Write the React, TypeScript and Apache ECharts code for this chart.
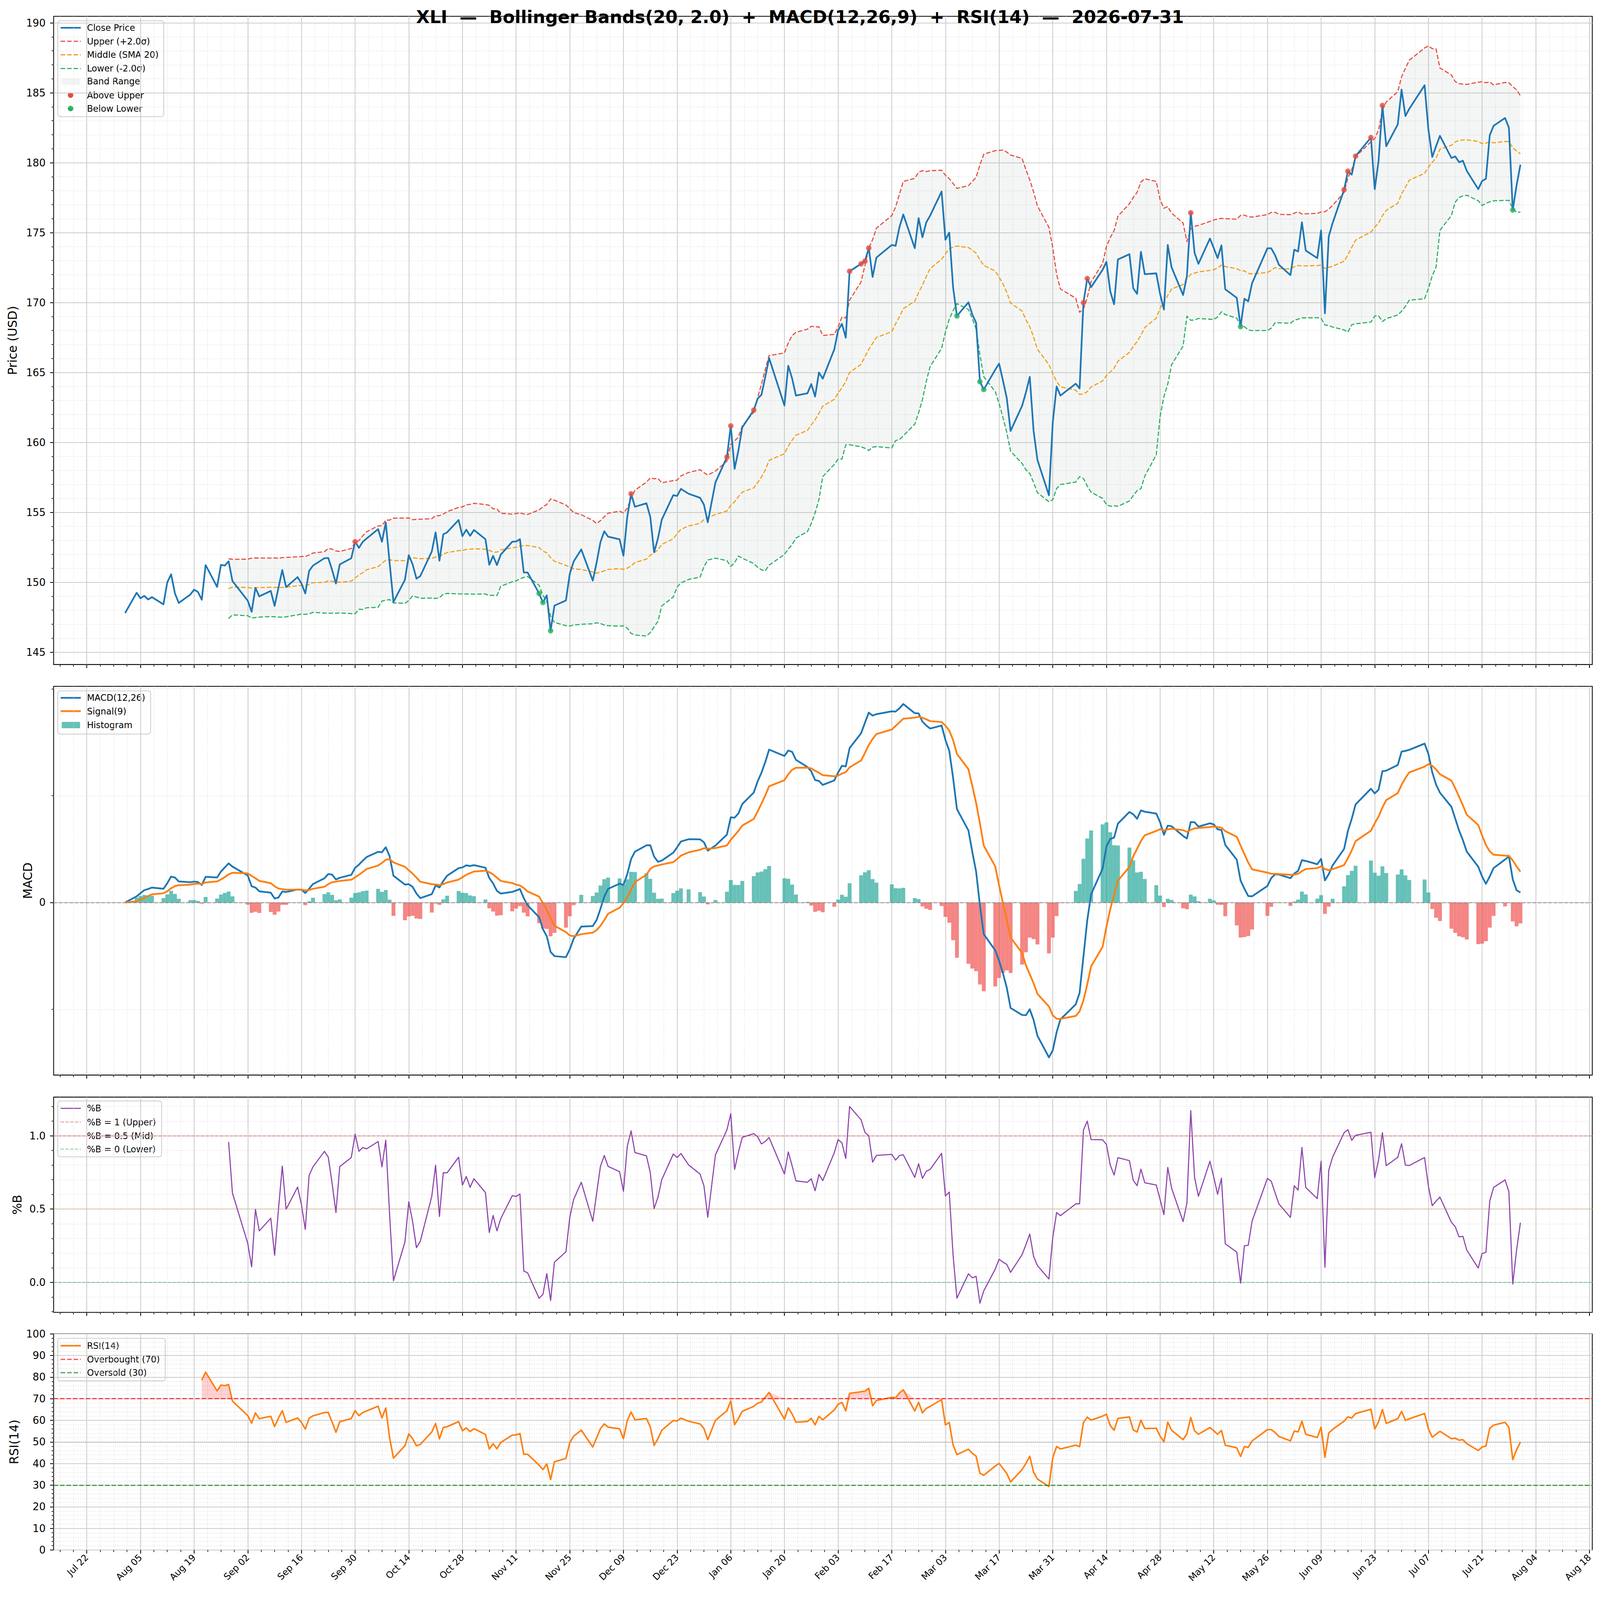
import React, { useEffect, useRef } from "react";
import * as echarts from "echarts";

// ---------------- DATA ----------------
const TITLE = "XLI  —  Bollinger Bands(20, 2.0)  +  MACD(12,26,9)  +  RSI(14)  —  2026-07-31";
const FIRST_DAY = "2025-08-01";
const LAST_DAY = "2026-07-31";
const AXIS_ORIGIN = "2025-07-22"; // first x tick (a Tuesday)
const HOLIDAYS = [
  "2025-09-01", "2025-11-27", "2025-12-25", "2026-01-01", "2026-01-19",
  "2026-02-16", "2026-04-03", "2026-05-25", "2026-06-19", "2026-07-03",
];

// Close prices (USD), one per trading day
const CLOSE_AUG_2025 = [147.8, 149.25, 148.86, 149.03, 148.77, 148.94, 148.42, 150.0, 150.57, 149.2, 148.52, 149.12, 149.47, 149.31, 148.75, 151.23, 149.67, 151.25, 151.19, 151.5, 150.09];
const CLOSE_SEP_2025 = [148.68, 147.89, 149.6, 148.99, 149.38, 148.31, 149.6, 150.88, 149.65, 150.37, 149.91, 149.2, 150.81, 151.19, 151.72, 151.74, 150.88, 149.91, 151.28, 151.72, 152.9];
const CLOSE_OCT_2025 = [152.46, 152.9, 153.13, 153.8, 152.9, 154.27, 151.4, 148.59, 150.18, 151.94, 151.28, 150.26, 150.44, 152.2, 153.57, 151.54, 153.43, 153.57, 154.45, 153.3, 153.76, 153.32, 153.74];
const CLOSE_NOV_2025 = [153.08, 151.25, 151.89, 151.23, 151.98, 152.9, 152.92, 153.08, 150.7, 150.7, 149.2, 148.55, 149.06, 146.53, 148.33, 148.7, 150.6, 151.48, 152.35];
const CLOSE_DEC_2025 = [150.12, 151.4, 152.87, 153.65, 153.26, 153.07, 151.9, 154.68, 156.33, 155.4, 155.65, 154.68, 152.15, 153.13, 154.48, 156.23, 156.17, 156.68, 156.33, 156.04, 155.55, 154.29];
const CLOSE_JAN_2026 = [157.14, 158.95, 161.18, 158.11, 159.43, 161.08, 162.31, 163.12, 163.41, 164.67, 166.03, 162.64, 165.48, 164.58, 163.35, 163.51, 164.17, 163.28, 165.0, 164.56];
const CLOSE_FEB_2026 = [166.65, 168.01, 168.48, 167.49, 172.24, 172.77, 172.96, 173.9, 171.83, 173.22, 174.12, 174.06, 175.39, 176.3, 173.89, 176.04, 174.67, 175.73, 176.21];
const CLOSE_MAR_2026 = [177.94, 174.49, 175.0, 171.09, 169.04, 170.02, 169.16, 168.56, 164.34, 163.78, 165.2, 165.63, 164.43, 163.17, 160.82, 162.62, 163.57, 164.69, 160.82, 158.75, 156.22, 161.42];
const CLOSE_APR_2026 = [164.0, 163.35, 164.2, 163.86, 169.99, 171.72, 171.1, 172.34, 172.91, 170.8, 169.88, 173.08, 173.46, 171.02, 170.62, 173.63, 172.03, 172.09, 170.62, 169.5, 174.12];
const CLOSE_MAY_2026 = [172.52, 170.54, 171.91, 176.42, 173.55, 172.77, 174.58, 173.9, 173.18, 174.09, 170.95, 170.34, 168.28, 170.27, 170.09, 171.39, 173.88, 173.88, 173.38, 172.7];
const CLOSE_JUN_2026 = [171.96, 173.78, 173.65, 175.74, 173.72, 173.18, 175.16, 169.23, 174.73, 175.68, 178.07, 179.39, 179.15, 180.47, 181.8, 178.11, 180.14, 184.09, 181.18, 182.74, 185.23];
const CLOSE_JUL_2026 = [183.34, 183.85, 185.54, 182.36, 180.41, 181.18, 181.92, 180.34, 180.45, 180.04, 180.14, 179.42, 178.11, 178.69, 178.85, 181.96, 182.64, 183.2, 182.5, 176.62, 178.38, 179.86];

const BB_PERIOD = 20;
const BB_K = 2.0;
const MACD_FAST = 12;
const MACD_SLOW = 26;
const MACD_SIGNAL = 9;
const RSI_PERIOD = 14;

const X_TICK_LABELS = [
  "Jul 22", "Aug 05", "Aug 19", "Sep 02", "Sep 16", "Sep 30", "Oct 14", "Oct 28",
  "Nov 11", "Nov 25", "Dec 09", "Dec 23", "Jan 06", "Jan 20", "Feb 03", "Feb 17",
  "Mar 03", "Mar 17", "Mar 31", "Apr 14", "Apr 28", "May 12", "May 26", "Jun 09",
  "Jun 23", "Jul 07", "Jul 21", "Aug 04", "Aug 18",
];
const PRICE_TICKS = [145, 150, 155, 160, 165, 170, 175, 180, 185, 190];
const MACD_TICKS = [0];
const MACD_MINOR_TICKS = [-2, 2, 4];
const PCTB_TICKS = [0, 0.5, 1.0];
const RSI_TICKS = [0, 10, 20, 30, 40, 50, 60, 70, 80, 90, 100];

// ---------------- HELPERS ----------------
const REF_W = 4377;
const REF_H = 4322;
const DAY = 86400000;
const utc = (s: string) => Date.parse(s + "T00:00:00Z");
const dayNum = (s: string) => Math.round((utc(s) - utc(AXIS_ORIGIN)) / DAY);

function tradingDays(): string[] {
  const hol = new Set(HOLIDAYS);
  const out: string[] = [];
  for (let t = utc(FIRST_DAY); t <= utc(LAST_DAY); t += DAY) {
    const d = new Date(t);
    const wd = d.getUTCDay();
    if (wd === 0 || wd === 6) continue;
    const s = d.toISOString().slice(0, 10);
    if (hol.has(s)) continue;
    out.push(s);
  }
  return out;
}

function ema(arr: number[], span: number): number[] {
  const a = 2 / (span + 1);
  const out: number[] = [];
  arr.forEach((v, i) => out.push(i === 0 ? v : a * v + (1 - a) * out[i - 1]));
  return out;
}

const FONT = "DejaVu Sans";

function buildOption(sx: number, sy: number) {
  const X = (v: number) => v * sx;
  const Y = (v: number) => v * sy;
  const s = Math.min(sx, sy);
  const P = (v: number) => v * s;

  const close = [
    ...CLOSE_AUG_2025, ...CLOSE_SEP_2025, ...CLOSE_OCT_2025, ...CLOSE_NOV_2025,
    ...CLOSE_DEC_2025, ...CLOSE_JAN_2026, ...CLOSE_FEB_2026, ...CLOSE_MAR_2026,
    ...CLOSE_APR_2026, ...CLOSE_MAY_2026, ...CLOSE_JUN_2026, ...CLOSE_JUL_2026,
  ];
  const dates = tradingDays();
  const n = Math.min(dates.length, close.length);
  const xs = dates.slice(0, n).map(dayNum);

  // Bollinger
  const mid: (number | null)[] = [];
  const up: (number | null)[] = [];
  const lo: (number | null)[] = [];
  for (let i = 0; i < n; i++) {
    if (i < BB_PERIOD - 1) { mid.push(null); up.push(null); lo.push(null); continue; }
    const w = close.slice(i - BB_PERIOD + 1, i + 1);
    const m = w.reduce((a, b) => a + b, 0) / BB_PERIOD;
    const sd = Math.sqrt(w.reduce((a, b) => a + (b - m) * (b - m), 0) / (BB_PERIOD - 1));
    mid.push(m); up.push(m + BB_K * sd); lo.push(m - BB_K * sd);
  }
  // MACD
  const eF = ema(close.slice(0, n), MACD_FAST);
  const eS = ema(close.slice(0, n), MACD_SLOW);
  const macd = eF.map((v, i) => v - eS[i]);
  const signal = ema(macd, MACD_SIGNAL);
  const hist = macd.map((v, i) => v - signal[i]);
  // RSI (Wilder)
  const rsi: (number | null)[] = [null];
  let ag = 0, al = 0;
  for (let i = 1; i < n; i++) {
    const d = close[i] - close[i - 1];
    const g = Math.max(d, 0), l = Math.max(-d, 0);
    if (i === 1) { ag = g; al = l; } else { ag = ag * (1 - 1 / RSI_PERIOD) + g / RSI_PERIOD; al = al * (1 - 1 / RSI_PERIOD) + l / RSI_PERIOD; }
    rsi.push(i >= RSI_PERIOD ? (al === 0 ? 100 : 100 - 100 / (1 + ag / al)) : null);
  }
  // %B
  const pctb = close.slice(0, n).map((c, i) => (up[i] == null ? null : (c - (lo[i] as number)) / ((up[i] as number) - (lo[i] as number))));

  const pts = (arr: (number | null)[]) => {
    const out: number[][] = [];
    arr.forEach((v, i) => { if (v != null) out.push([xs[i], v]); });
    return out;
  };

  const above: number[][] = [];
  const below: number[][] = [];
  for (let i = 0; i < n; i++) {
    if (up[i] != null && close[i] > (up[i] as number)) above.push([xs[i], close[i]]);
    if (lo[i] != null && close[i] < (lo[i] as number)) below.push([xs[i], close[i]]);
  }
  const bandData: number[][] = [];
  for (let i = 0; i < n; i++) if (up[i] != null) bandData.push([xs[i], up[i] as number, lo[i] as number]);

  // layout (reference px, scaled)
  const XMIN = -8.65, XMAX = 392.75;
  const GL = 146.7, GW = 4209.2;
  const GRIDS = [
    { top: 44, height: 1751 },
    { top: 1854, height: 1050 },
    { top: 2963.6, height: 581.4 },
    { top: 3603, height: 584 },
  ];

  const xMajor = X_TICK_LABELS.map((_, k) => k * 14);
  const xMinor: number[] = [];
  for (let v = -7; v <= XMAX; v += 3.5) if (Math.abs(v / 14 - Math.round(v / 14)) > 1e-6) xMinor.push(v);

  const allM = [...macd, ...signal, ...hist, 0];
  const mMin = Math.min(...allM), mMax = Math.max(...allM);
  const mPad = (mMax - mMin) * 0.05;

  const range = (a: number, b: number, st: number, skip: number) => {
    const o: number[] = [];
    for (let v = a; v <= b + 1e-9; v += st) {
      const r = Math.round(v * 1000) / 1000;
      if (Math.abs(r / skip - Math.round(r / skip)) > 1e-6) o.push(r);
    }
    return o;
  };

  const yCfg = [
    { min: 144.12, max: 190.47, major: PRICE_TICKS, minor: range(145, 190, 1, 5), fmt: (v: number) => String(v), name: "Price (USD)", gap: 96 },
    { min: mMin - mPad, max: mMax + mPad, major: MACD_TICKS, minor: MACD_MINOR_TICKS.filter((v) => v > mMin - mPad && v < mMax + mPad), fmt: (v: number) => String(v), name: "MACD", gap: 54 },
    { min: -0.2045, max: 1.2636, major: PCTB_TICKS, minor: range(-0.2, 1.2, 0.1, 0.5), fmt: (v: number) => v.toFixed(1), name: "%B", gap: 83 },
    { min: 0, max: 100, major: RSI_TICKS, minor: range(0, 100, 2, 10), fmt: (v: number) => String(v), name: "RSI(14)", gap: 92 },
  ];

  const minorSplit = { show: true, lineStyle: { color: "#dcdcdc", width: P(1.5), type: [P(2.5), P(3.5)] } };
  const majorSplit = { show: true, lineStyle: { color: "#cccccc", width: P(2.2) } };
  const noLine = { show: false, onZero: false };

  const xAxis: any[] = [];
  const yAxis: any[] = [];
  GRIDS.forEach((_, i) => {
    xAxis.push({
      type: "value", gridIndex: i, min: XMIN, max: XMAX, position: "bottom", offset: 0,
      axisLine: noLine,
      axisTick: { show: true, customValues: xMinor, length: P(5.6), lineStyle: { color: "#000", width: P(1.7) } },
      axisLabel: { show: false },
      splitLine: minorSplit,
    });
    xAxis.push({
      type: "value", gridIndex: i, min: XMIN, max: XMAX, position: "bottom", offset: 0,
      axisLine: noLine,
      axisTick: { show: true, customValues: xMajor, length: P(9.7), lineStyle: { color: "#000", width: P(2.2) } },
      axisLabel: {
        show: i === 3, customValues: xMajor, rotate: 45, fontSize: P(25), fontFamily: FONT, color: "#000", margin: P(16),
        formatter: (v: number) => X_TICK_LABELS[Math.round(v / 14)] ?? "",
      },
      splitLine: majorSplit,
    });
    const c = yCfg[i];
    yAxis.push({
      type: "value", gridIndex: i, min: c.min, max: c.max, position: "left", offset: 0,
      axisLine: noLine,
      axisTick: { show: true, customValues: c.minor, length: P(5.6), lineStyle: { color: "#000", width: P(1.7) } },
      axisLabel: { show: false },
      splitLine: minorSplit,
    });
    yAxis.push({
      type: "value", gridIndex: i, min: c.min, max: c.max, position: "left", offset: 0,
      name: c.name, nameLocation: "middle", nameGap: X(c.gap), nameRotate: 90,
      nameTextStyle: { fontSize: P(33.3), fontFamily: FONT, color: "#000" },
      axisLine: noLine,
      axisTick: { show: true, customValues: c.major, length: P(9.7), lineStyle: { color: "#000", width: P(2.2) } },
      axisLabel: { show: true, customValues: c.major, fontSize: P(27.8), fontFamily: FONT, color: "#000", margin: X(22), formatter: c.fmt },
      splitLine: majorSplit,
    });
  });

  const ax = (i: number) => ({ xAxisIndex: 2 * i + 1, yAxisIndex: 2 * i + 1 });
  const lineS = (i: number, name: string, data: number[][], color: string, width: number, type: any = "solid", z = 3) => ({
    type: "line", name, ...ax(i), data, symbol: "none", showSymbol: false, silent: true, z,
    lineStyle: { color, width: P(width), type, join: "round", cap: "butt" },
  });

  const DASH = [P(12.3), P(5.3)];
  const series: any[] = [
    // band fill (polygon between upper and lower bands)
    {
      type: "custom", name: "Band Range", ...ax(0), data: bandData, silent: true, z: 1,
      encode: { x: 0, y: [1, 2] },
      renderItem: (params: any, api: any) => {
        if (params.dataIndex !== 0) return null;
        const upper = bandData.map((d) => api.coord([d[0], d[1]]));
        const lower = bandData.map((d) => api.coord([d[0], d[2]])).reverse();
        return {
          type: "polygon",
          shape: { points: upper.concat(lower) },
          style: { fill: "#95a5a6", opacity: 0.1, stroke: "none" },
        };
      },
    },
    lineS(0, "Upper (+2.0σ)", pts(up), "#e74c3c", 3.0, DASH),
    lineS(0, "Middle (SMA 20)", pts(mid), "#f39c12", 3.0, DASH),
    lineS(0, "Lower (-2.0σ)", pts(lo), "#27ae60", 3.0, DASH),
    lineS(0, "Close Price", pts(close.slice(0, n)), "#1f77b4", 4.6, "solid", 4),
    { type: "scatter", name: "Above Upper", ...ax(0), data: above, symbol: "circle", symbolSize: P(15), silent: true, z: 5, itemStyle: { color: "#e74c3c" } },
    { type: "scatter", name: "Below Lower", ...ax(0), data: below, symbol: "circle", symbolSize: P(15), silent: true, z: 5, itemStyle: { color: "#27ae60" } },
    // MACD
    {
      type: "bar", name: "Histogram", ...ax(1), data: pts(hist), barWidth: X(10.49), silent: true, z: 2,
      itemStyle: { opacity: 0.7, color: (p: any) => (p.value[1] >= 0 ? "#26a69a" : "#ef5350") },
      markLine: { silent: true, symbol: ["none", "none"], label: { show: false }, data: [{ yAxis: 0 }], lineStyle: { color: "#888888", width: P(2.4), type: [P(10), P(4.5)] } },
    },
    lineS(1, "MACD(12,26)", pts(macd), "#1f77b4", 4.8, "solid", 4),
    lineS(1, "Signal(9)", pts(signal), "#ff7f0e", 4.8, "solid", 4),
    // %B
    {
      ...lineS(2, "%B", pts(pctb), "#8e44ad", 3.0),
      markLine: {
        silent: true, symbol: ["none", "none"], label: { show: false },
        data: [
          { yAxis: 1, lineStyle: { color: "#e74c3c", opacity: 0.6, width: P(2.2), type: [P(9), P(4)] } },
          { yAxis: 0.5, lineStyle: { color: "#f39c12", opacity: 0.5, width: P(2.2), type: [P(3), P(3)] } },
          { yAxis: 0, lineStyle: { color: "#27ae60", opacity: 0.6, width: P(2.2), type: [P(9), P(4)] } },
        ],
      },
    },
    // RSI
    { type: "line", name: "obFill", ...ax(3), data: pts(rsi.map((v) => (v == null ? null : Math.max(v, 70)))), symbol: "none", silent: true, z: 1, lineStyle: { width: 0, opacity: 0 }, areaStyle: { color: "#ff0000", opacity: 0.18, origin: 70 } },
    { type: "line", name: "osFill", ...ax(3), data: pts(rsi.map((v) => (v == null ? null : Math.min(v, 30)))), symbol: "none", silent: true, z: 1, lineStyle: { width: 0, opacity: 0 }, areaStyle: { color: "#008000", opacity: 0.18, origin: 30 } },
    {
      ...lineS(3, "RSI(14)", pts(rsi), "#ff7f0e", 4.2),
      markLine: {
        silent: true, symbol: ["none", "none"], label: { show: false },
        data: [
          { yAxis: 70, lineStyle: { color: "#ff2020", opacity: 0.85, width: P(3.3), type: DASH } },
          { yAxis: 30, lineStyle: { color: "#1f8f1f", opacity: 0.85, width: P(3.3), type: DASH } },
          { yAxis: 50, lineStyle: { color: "#888888", opacity: 0.7, width: P(2.2), type: [P(2.2), P(3.6)] } },
        ],
      },
    },
  ];

  // legends (matplotlib style)
  type Item = { label: string; kind: "line" | "patch" | "dot" | "bar"; color: string; width?: number; dash?: number[]; opacity?: number };
  const legend = (x: number, y: number, w: number, h: number, rows: number[], items: Item[]) => {
    const children: any[] = [
      { type: "rect", shape: { x: X(x), y: Y(y), width: X(w), height: Y(h), r: P(7) }, style: { fill: "rgba(255,255,255,0.8)", stroke: "#cccccc", lineWidth: P(2.2) } },
    ];
    items.forEach((it, k) => {
      const cy = Y(rows[k]);
      if (it.kind === "line") children.push({ type: "line", shape: { x1: X(x + 8), y1: cy, x2: X(x + 63), y2: cy }, style: { stroke: it.color, lineWidth: P(it.width ?? 3), lineDash: it.dash ? it.dash.map(P) : null, opacity: it.opacity ?? 1 } });
      if (it.kind === "patch" || it.kind === "bar") children.push({ type: "rect", shape: { x: X(x + 11), y: cy - Y(8), width: X(50), height: Y(17) }, style: { fill: it.color, opacity: it.opacity ?? 1 } });
      if (it.kind === "dot") children.push({ type: "circle", shape: { cx: X(x + 35), cy, r: P(7.5) }, style: { fill: it.color } });
      children.push({ type: "text", style: { text: it.label, x: X(x + 80), y: cy, fill: "#000", fontSize: P(24), fontFamily: FONT, verticalAlign: "middle", align: "left" } });
    });
    return { type: "group", z: 100, children };
  };

  const graphic = [
    legend(158, 56, 290, 259, [75, 111.5, 148, 185, 220, 257, 293], [
      { label: "Close Price", kind: "line", color: "#1f77b4", width: 4.6 },
      { label: "Upper (+2.0σ)", kind: "line", color: "#e74c3c", width: 3, dash: [12.3, 5.3] },
      { label: "Middle (SMA 20)", kind: "line", color: "#f39c12", width: 3, dash: [12.3, 5.3] },
      { label: "Lower (-2.0σ)", kind: "line", color: "#27ae60", width: 3, dash: [12.3, 5.3] },
      { label: "Band Range", kind: "patch", color: "#95a5a6", opacity: 0.12 },
      { label: "Above Upper", kind: "dot", color: "#e74c3c" },
      { label: "Below Lower", kind: "dot", color: "#27ae60" },
    ]),
    legend(158, 1866, 254, 117, [1885, 1921, 1958], [
      { label: "MACD(12,26)", kind: "line", color: "#1f77b4", width: 4.8 },
      { label: "Signal(9)", kind: "line", color: "#ff7f0e", width: 4.8 },
      { label: "Histogram", kind: "bar", color: "#26a69a", opacity: 0.7 },
    ]),
    legend(158, 2974, 284, 151, [2994, 3031, 3068, 3104], [
      { label: "%B", kind: "line", color: "#8e44ad", width: 3 },
      { label: "%B = 1 (Upper)", kind: "line", color: "#e74c3c", width: 2.2, dash: [9, 4], opacity: 0.6 },
      { label: "%B = 0.5 (Mid)", kind: "line", color: "#f39c12", width: 2.2, dash: [3, 3], opacity: 0.5 },
      { label: "%B = 0 (Lower)", kind: "line", color: "#27ae60", width: 2.2, dash: [9, 4], opacity: 0.6 },
    ]),
    legend(158, 3615, 294, 115, [3635, 3672, 3708], [
      { label: "RSI(14)", kind: "line", color: "#ff7f0e", width: 4.2 },
      { label: "Overbought (70)", kind: "line", color: "#ff2020", width: 3.3, dash: [12.3, 5.3], opacity: 0.85 },
      { label: "Oversold (30)", kind: "line", color: "#1f8f1f", width: 3.3, dash: [12.3, 5.3], opacity: 0.85 },
    ]),
  ];

  return {
    animation: false,
    backgroundColor: "#ffffff",
    title: {
      text: TITLE, left: "center", top: Y(17),
      textStyle: { fontSize: P(48), fontWeight: "bold", fontFamily: FONT, color: "#000" },
    },
    grid: GRIDS.map((g) => ({ left: X(GL), width: X(GW), top: Y(g.top), height: Y(g.height), show: true, borderColor: "#000", borderWidth: P(2.2), backgroundColor: "rgba(0,0,0,0)" })),
    xAxis, yAxis, series, graphic,
  };
}

export default function App() {
  const ref = useRef<HTMLDivElement>(null);
  const [size] = React.useState(() => ({
    w: window.innerWidth || REF_W,
    h: window.innerHeight || REF_H,
  }));
  useEffect(() => {
    if (!ref.current) return;
    const chart = echarts.init(ref.current, null, { renderer: "svg", width: size.w, height: size.h });
    chart.setOption(buildOption(size.w / REF_W, size.h / REF_H) as any);
    return () => chart.dispose();
  }, [size]);
  return <div ref={ref} style={{ position: "fixed", left: 0, top: 0, width: size.w, height: size.h, background: "#fff" }} />;
}
